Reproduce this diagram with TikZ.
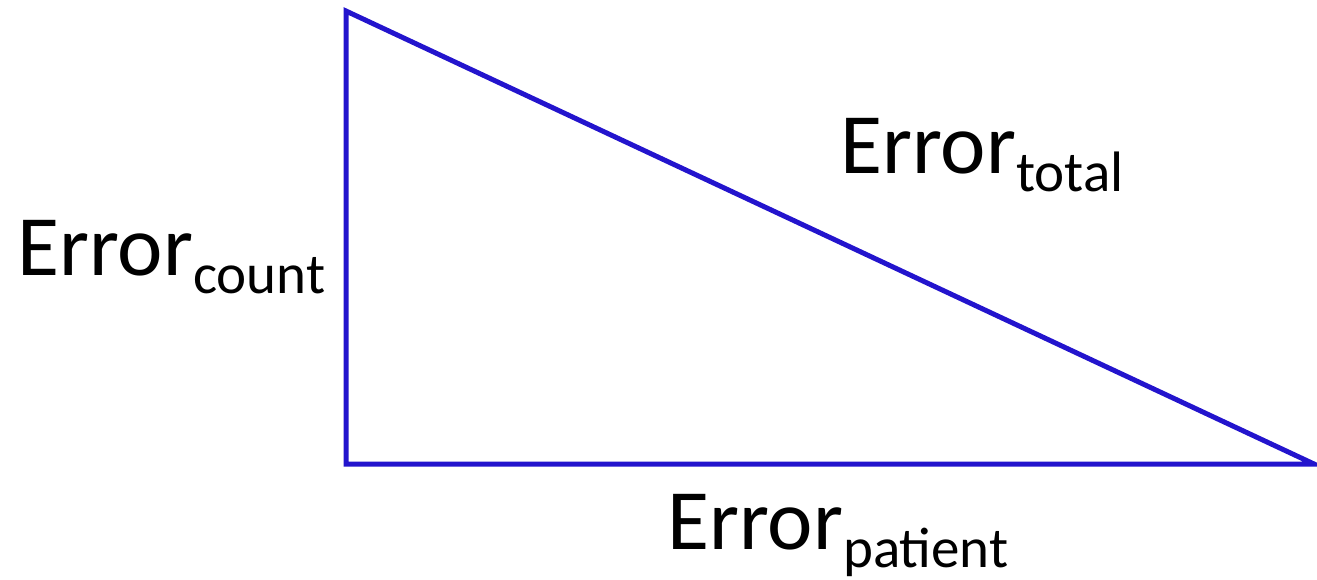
\documentclass[tikz,border=0pt]{standalone}
\usepackage{fontspec}
\setmainfont{Carlito}
\definecolor{triblue}{RGB}{35,20,205}
\tikzset{
  side/.style={draw=triblue, line width=5pt, line join=miter},
  lab/.style={anchor=base west, inner sep=0pt, font=\fontsize{86}{90}\selectfont, text=black},
}
\newcommand{\subtxt}[1]{\raisebox{-18pt}{\fontsize{57}{60}\selectfont #1}}
\begin{document}
\begin{tikzpicture}[x=1pt,y=-1pt]
\useasboundingbox (0,0) rectangle (1317,579);
\coordinate (A) at (346,11);
\coordinate (B) at (346,464);
\coordinate (C) at (1314,464);
\draw[side] (A) -- (B) -- (C) -- cycle;
\node[lab] (count) at (17,275) {Error\subtxt{count}};
\node[lab] (total) at (840,173) {Error\subtxt{total}};
\node[lab] (patient) at (667,549) {Error\subtxt{patient}};
\end{tikzpicture}
\end{document}
